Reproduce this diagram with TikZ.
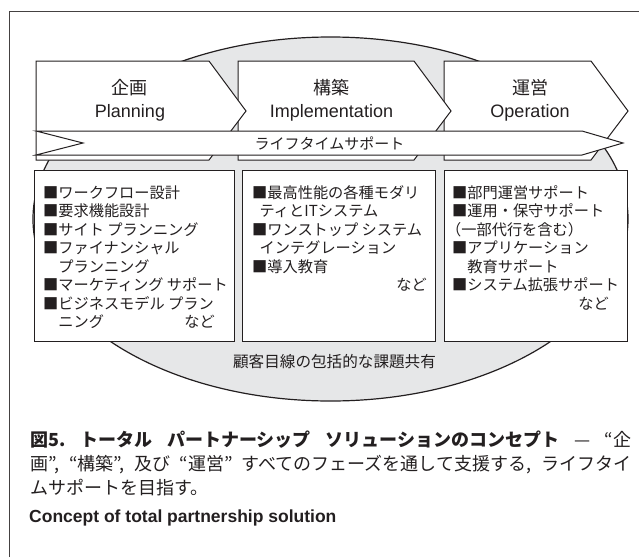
\documentclass[tikz,border=0pt]{standalone}
\usepackage{fontspec}
\setmainfont{Liberation Sans}
\newfontfamily\jp{Noto Sans CJK JP}
\definecolor{ink}{HTML}{231F20}
\definecolor{ellgray}{HTML}{E6E7E8}
\begin{document}
\begin{tikzpicture}[x=1pt,y=-1pt,
  outline/.style={draw=ink, line width=1pt, line join=miter},
  whiteshape/.style={outline, fill=white},
  titlejp/.style={font=\jp\fontsize{18}{20}\selectfont, text=ink, inner sep=0, anchor=center},
  titleen/.style={font=\fontsize{18}{20}\selectfont, text=ink, inner sep=0, anchor=base},
  boxtxt/.style={font=\jp\fontsize{15.2}{18}\selectfont, text=ink, inner sep=0, anchor=base west},
  boxend/.style={font=\jp\fontsize{15.2}{18}\selectfont, text=ink, inner sep=0, anchor=base east},
  captxt/.style={font=\jp\fontsize{18}{22}\selectfont, text=ink, inner sep=0, anchor=base west}
]
\useasboundingbox (0,0) rectangle (639,557);
% outer frame
\draw[draw=ink!85, line width=0.9pt] (9,557) -- (9,11) -- (639,11);
% ellipse
\filldraw[fill=ellgray, draw=ink, line width=1.2pt] (330.5,219) ellipse [x radius=297.5, y radius=182];
% chevrons
\path[whiteshape] (444,61) -- (591,61) -- (628,111) -- (591,160) -- (444,160) -- cycle;
\path[whiteshape] (238,61) -- (414,61) -- (451,111) -- (414,160) -- (238,160) -- cycle;
\path[whiteshape] (36,61) -- (209,61) -- (246,111) -- (209,160) -- (36,160) -- cycle;
% lifetime band
\path[whiteshape] (36,131) -- (582,131) -- (623,143) -- (582,155) -- (36,155) -- (83,143) -- cycle;
% boxes
\path[whiteshape] (34,170) rectangle (234,341);
\path[whiteshape] (242,170) rectangle (435,341);
\path[whiteshape] (444,170) rectangle (627,341);
% chevron titles
\node[titlejp] (t1j) at (129,87.5) {企画};
\node[titleen] (t1e) at (130,117) {Planning};
\node[titlejp] (t2j) at (331,87.5) {構築};
\node[titleen] (t2e) at (331.5,117) {Implementation};
\node[titlejp] (t3j) at (530,87.5) {運営};
\node[titleen] (t3e) at (530,117) {Operation};
% band text
\node[font=\jp\fontsize{15}{18}\selectfont, text=ink, inner sep=0] (bandtxt) at (329.5,143.5) {ライフタイムサポート};
% box 1
\node[boxtxt] (b1a) at (43,198) {■ワークフロー設計};
\node[boxtxt] (b1b) at (43,216.5) {■要求機能設計};
\node[boxtxt] (b1c) at (43,235) {■サイト プランニング};
\node[boxtxt] (b1d) at (43,253.5) {■ファイナンシャル};
\node[boxtxt] (b1e) at (58.2,272) {プランニング};
\node[boxtxt] (b1f) at (43,290.5) {■マーケティング サポート};
\node[boxtxt] (b1g) at (43,309) {■ビジネスモデル プラン};
\node[boxtxt] (b1h) at (58.2,327.5) {ニング};
\node[boxend] (b1i) at (215,327.5) {など};
% box 2
\node[boxtxt] (b2a) at (252,198) {■最高性能の各種モダリ};
\node[boxtxt] (b2b) at (259.5,216.5) {ティとITシステム};
\node[boxtxt] (b2c) at (252,235) {■ワンストップ システム};
\node[boxtxt] (b2d) at (259.5,253.5) {インテグレーション};
\node[boxtxt] (b2e) at (252,272) {■導入教育};
\node[boxend] (b2f) at (427,290.5) {など};
% box 3
\node[boxtxt] (b3a) at (452,198) {■部門運営サポート};
\node[boxtxt] (b3b) at (452,216.5) {■運用・保守サポート};
\node[boxtxt] (b3c) at (446,235) {（一部代行を含む）};
\node[boxtxt] (b3d) at (452,253.5) {■アプリケーション};
\node[boxtxt] (b3e) at (467.2,272) {教育サポート};
\node[boxtxt] (b3f) at (452,290.5) {■システム拡張サポート};
\node[boxend] (b3g) at (609,309) {など};
% shared understanding
\node[font=\jp\fontsize{15.6}{18}\selectfont, text=ink, inner sep=0] (share) at (334.5,362) {顧客目線の包括的な課題共有};
% caption
\node[captxt] (cap1) at (30,446) {\makebox[601pt][s]{\bfseries 図5.\ トータル\ パートナーシップ\ ソリューションのコンセプト\mdseries\ —\ “企}};
\node[captxt] (cap2) at (30,470) {\makebox[601pt][s]{画”, “構築”, 及び “運営” すべてのフェーズを通して支援する, ライフタイ}};
\node[captxt] (cap3) at (30,494) {ムサポートを目指す。};
\node[font=\bfseries\fontsize{17.5}{20}\selectfont, text=ink, inner sep=0, anchor=base west] (concept) at (29,522) {Concept of total partnership solution};
\end{tikzpicture}
\end{document}
